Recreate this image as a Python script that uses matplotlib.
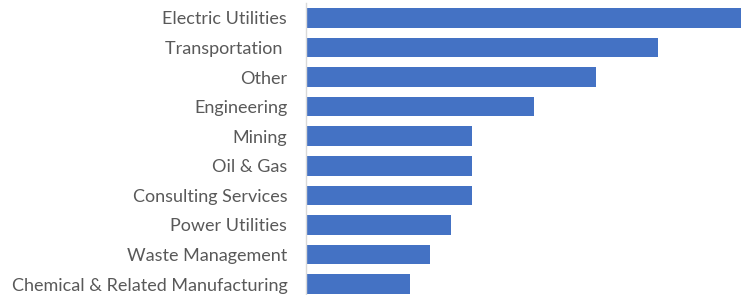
import matplotlib
matplotlib.use("Agg")
import matplotlib.pyplot as plt

# ---------------- DATA ----------------
categories = ["Electric Utilities", "Transportation ", "Other", "Engineering",
              "Mining", "Oil & Gas", "Consulting Services", "Power Utilities",
              "Waste Management", "Chemical & Related Manufacturing"]
counts = [21, 17, 14, 11, 8, 8, 8, 7, 6, 5]
# --------------------------------------

plt.rcParams['font.family'] = ['Lato', 'DejaVu Sans']

fig = plt.figure(figsize=(7.44, 2.95), dpi=100)
ax = fig.add_axes([306/744, 1 - 298.8/295, (741 - 306)/744, (298.8 - 3.2)/295])

y = range(len(categories))
ax.barh(y, counts, height=0.66, color="#4472C4")
ax.set_ylim(len(categories) - 0.5, -0.5)
ax.set_xlim(0, 21)

ax.set_yticks(list(y))
ax.set_yticklabels(categories, fontsize=13, color="#595959")
ax.tick_params(axis='y', length=0, pad=13.5)
ax.set_xticks([])

for s in ["top", "right", "bottom"]:
    ax.spines[s].set_visible(False)
ax.spines["left"].set_color("#D9D9D9")
ax.spines["left"].set_linewidth(1)

fig.savefig("out.png", dpi=100)
